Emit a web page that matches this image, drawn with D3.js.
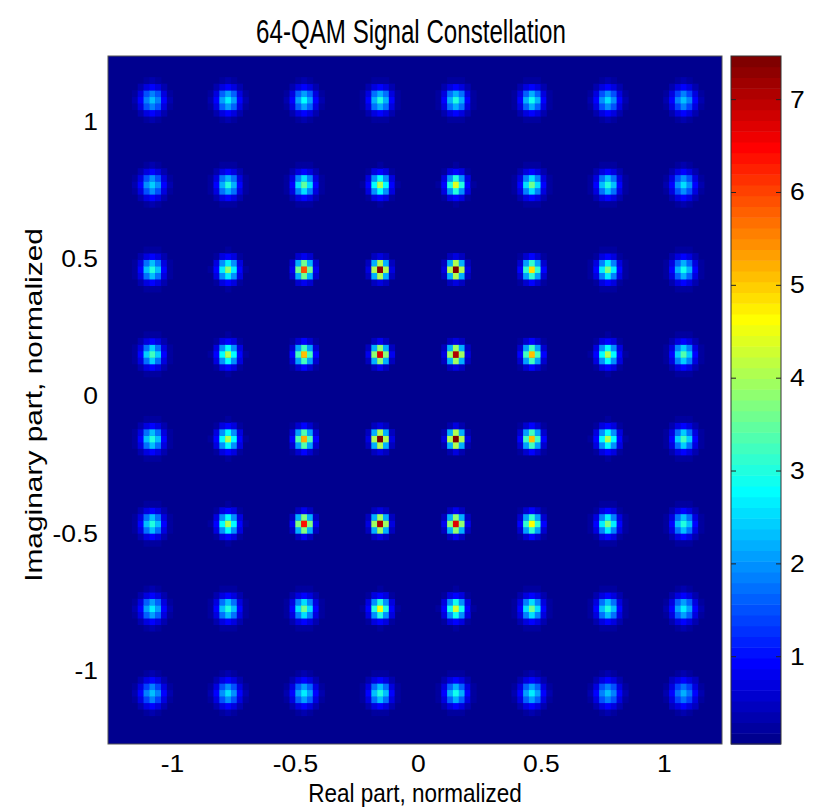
<!DOCTYPE html>
<html>
<head>
<meta charset="utf-8">
<script src="https://cdn.jsdelivr.net/npm/d3@7"></script>
<style>
  body { margin: 0; background: #fff; }
  text { font-family: "Liberation Sans", Arial, Helvetica, sans-serif; fill: #000; }
</style>
</head>
<body>
<div id="chart"></div>
<script>
// constellation levels (normalized)
const realLevels = [-1.080, -0.772, -0.463, -0.154, 0.154, 0.463, 0.772, 1.080];
const imagLevels = [1.080, 0.772, 0.463, 0.154, -0.154, -0.463, -0.772, -1.080];

// peak density of each spot, rows top -> bottom, columns left -> right
const peakDensity = [
  [2.3, 2.6, 2.7, 2.9, 2.9, 2.8, 2.5, 2.2],
  [2.4, 2.9, 3.4, 4.0, 4.3, 3.5, 3.0, 2.5],
  [3.0, 3.8, 5.8, 7.2, 7.4, 4.8, 3.6, 2.8],
  [3.2, 4.0, 5.0, 6.6, 7.0, 5.0, 4.0, 3.3],
  [3.0, 4.0, 5.2, 7.4, 7.5, 5.0, 4.0, 3.2],
  [3.0, 4.0, 6.3, 7.0, 6.6, 4.6, 3.6, 3.0],
  [2.6, 3.0, 3.5, 4.4, 4.2, 3.5, 3.0, 2.6],
  [2.2, 2.5, 2.6, 3.0, 2.8, 2.6, 2.3, 2.1]
];

const densityRange = [0.06, 7.47];   // colorbar min / max
const xTicks = [-1, -0.5, 0, 0.5, 1];
const yTicks = [-1, -0.5, 0, 0.5, 1];
const cbTicks = [1, 2, 3, 4, 5, 6, 7];

const width = 815, height = 809;
const plot = {left: 108, top: 56, right: 722, bottom: 744};
const cb = {left: 731, right: 781};
const tickFont = 23, tickStretch = 1.15; // figure text was resized unevenly

// matlab jet(64)
function jet64() {
  let u = [];
  for (let k = 1; k <= 16; k++) u.push(k / 16);
  for (let k = 0; k < 15; k++) u.push(1);
  for (let k = 16; k >= 1; k--) u.push(k / 16);
  let out = [];
  for (let k = 1; k <= 64; k++) {
    let r = (k >= 25) ? u[k - 25] : 0;
    let g = (k >= 9 && k <= 55) ? u[k - 9] : 0;
    let b = (k <= 39) ? u[k + 7] : 0;
    out.push(d3.rgb(r * 255, g * 255, b * 255).formatHex());
  }
  return out;
}
const jet = jet64();

let svg = d3.select("#chart").append("svg")
    .attr("width", width)
    .attr("height", height);

let x = d3.scaleLinear().domain([-1.26, 1.236]).range([plot.left, plot.right]);
let y = d3.scaleLinear().domain([-1.266, 1.240]).range([plot.bottom, plot.top]);
let color = d3.scaleQuantize().domain(densityRange).range(jet);

// histogram bins: 13 per symbol spacing
let bin = (realLevels[1] - realLevels[0]) / 13;
let sigma0 = 0.9; // spread (in bins) of the tallest spot
let peakMax = d3.max(peakDensity.flat());

let cells = [];
imagLevels.forEach((im, i) => {
  realLevels.forEach((re, j) => {
    let peak = peakDensity[i][j];
    let s = sigma0 * Math.pow(peakMax / peak, 0.4);
    for (let di = -6; di <= 6; di++) {
      for (let dj = -6; dj <= 6; dj++) {
        let v = densityRange[0] + peak * Math.exp(-(di * di + dj * dj) / (2 * s * s));
        cells.push({cx: re + di * bin, cy: im + dj * bin, v: v});
      }
    }
  });
});
cells = cells.filter(d => color(d.v) !== jet[0]);

svg.append("clipPath").attr("id", "plotclip")
  .append("rect")
  .attr("x", plot.left).attr("y", plot.top)
  .attr("width", plot.right - plot.left).attr("height", plot.bottom - plot.top);

svg.append("rect")
    .attr("x", plot.left).attr("y", plot.top)
    .attr("width", plot.right - plot.left).attr("height", plot.bottom - plot.top)
    .attr("fill", jet[0]);

svg.append("g")
    .attr("clip-path", "url(#plotclip)")
    .selectAll("rect")
    .data(cells)
    .enter()
    .append("rect")
    .attr("x", d => x(d.cx - bin / 2))
    .attr("y", d => y(d.cy + bin / 2))
    .attr("width", d => x(d.cx + bin / 2) - x(d.cx - bin / 2) + 0.4)
    .attr("height", d => y(d.cy - bin / 2) - y(d.cy + bin / 2) + 0.4)
    .attr("fill", d => color(d.v));

svg.append("rect")
    .attr("x", plot.left).attr("y", plot.top)
    .attr("width", plot.right - plot.left).attr("height", plot.bottom - plot.top)
    .attr("fill", "none")
    .attr("stroke", "#555")
    .attr("stroke-width", 1);

// axes
let xAxis = d3.axisBottom(x).tickValues(xTicks).tickSize(0).tickPadding(12).tickFormat(d => String(d));
let yAxis = d3.axisLeft(y).tickValues(yTicks).tickSize(0).tickPadding(10).tickFormat(d => String(d));

let xg = svg.append("g")
    .attr("transform", "translate(0," + plot.bottom + ")")
    .call(xAxis);
let yg = svg.append("g")
    .attr("transform", "translate(" + plot.left + ",0)")
    .call(yAxis);
[xg, yg].forEach(g => {
  g.select(".domain").remove();
  g.selectAll("text")
    .style("font-size", tickFont + "px")
    .attr("fill", "#000")
    .attr("transform", "scale(" + tickStretch + ",1)");
});
yg.selectAll("text").attr("x", -10 / tickStretch);

// colorbar
let cbY = d3.scaleLinear().domain(densityRange).range([plot.bottom, plot.top]);
let step = (densityRange[1] - densityRange[0]) / jet.length;
svg.append("g")
    .selectAll("rect")
    .data(jet)
    .enter()
    .append("rect")
    .attr("x", cb.left)
    .attr("width", cb.right - cb.left)
    .attr("y", (c, i) => cbY(densityRange[0] + (i + 1) * step))
    .attr("height", (c, i) => cbY(densityRange[0] + i * step) - cbY(densityRange[0] + (i + 1) * step) + 0.5)
    .attr("fill", c => c);

svg.append("rect")
    .attr("x", cb.left).attr("y", plot.top)
    .attr("width", cb.right - cb.left).attr("height", plot.bottom - plot.top)
    .attr("fill", "none")
    .attr("stroke", "#333")
    .attr("stroke-width", 1);

let cbAxis = d3.axisRight(cbY).tickValues(cbTicks).tickSize(0).tickPadding(9);
let cbg = svg.append("g")
    .attr("transform", "translate(" + cb.right + ",0)")
    .call(cbAxis);
cbg.select(".domain").remove();
cbg.selectAll("text")
    .style("font-size", tickFont + "px")
    .attr("fill", "#000")
    .attr("x", 9 / tickStretch)
    .attr("transform", "scale(" + tickStretch + ",1)");

// little tick marks inside the colorbar on both edges
let cbt = svg.append("g").selectAll("g").data(cbTicks).enter().append("g");
cbt.append("line")
    .attr("x1", cb.left).attr("x2", cb.left + 5)
    .attr("y1", d => cbY(d)).attr("y2", d => cbY(d))
    .attr("stroke", "#222");
cbt.append("line")
    .attr("x1", cb.right - 5).attr("x2", cb.right)
    .attr("y1", d => cbY(d)).attr("y2", d => cbY(d))
    .attr("stroke", "#222");

// labels
svg.append("text")
    .attr("transform", "translate(411,43) scale(0.71,1)")
    .attr("text-anchor", "middle")
    .style("font-size", "34px")
    .text("64-QAM Signal Constellation");

svg.append("text")
    .attr("transform", "translate(" + (plot.left + plot.right) / 2 + ",802) scale(0.9,1)")
    .attr("text-anchor", "middle")
    .style("font-size", "25px")
    .text("Real part, normalized");

svg.append("text")
    .attr("transform", "translate(42,405) rotate(-90) scale(1.3,1)")
    .attr("text-anchor", "middle")
    .style("font-size", "23px")
    .text("Imaginary part, normalized");
</script>
</body>
</html>
